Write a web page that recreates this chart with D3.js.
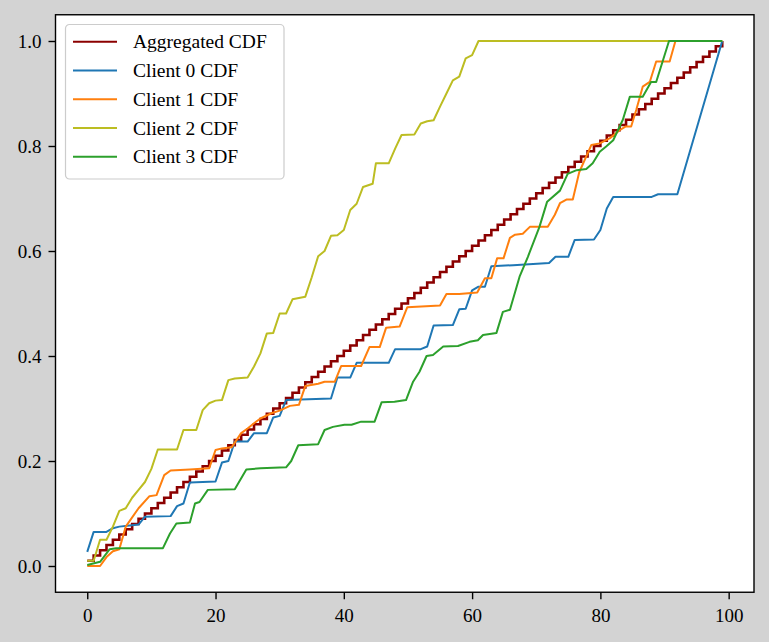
<!DOCTYPE html>
<html>
<head>
<meta charset="utf-8">
<script src="https://cdn.jsdelivr.net/npm/d3@7"></script>
<style>
  body { margin: 0; background: #d3d3d3; }
  svg { display: block; }
  text { font-family: "Liberation Serif", "Times New Roman", serif; }
</style>
</head>
<body>
<svg class="chart"></svg>
<script>

// aggregated CDF, one value per x = 0..99
var aggregated = [
    0.01, 0.02, 0.03, 0.04, 0.05, 0.06, 0.07, 0.08, 0.09, 0.10,
    0.11, 0.12, 0.13, 0.14, 0.15, 0.16, 0.17, 0.18, 0.19, 0.20,
    0.21, 0.22, 0.23, 0.24, 0.25, 0.26, 0.27, 0.28, 0.29, 0.30,
    0.31, 0.32, 0.33, 0.34, 0.35, 0.36, 0.37, 0.38, 0.39, 0.40,
    0.41, 0.42, 0.43, 0.44, 0.45, 0.46, 0.47, 0.48, 0.49, 0.50,
    0.51, 0.52, 0.53, 0.54, 0.55, 0.56, 0.57, 0.58, 0.59, 0.60,
    0.61, 0.62, 0.63, 0.64, 0.65, 0.66, 0.67, 0.68, 0.69, 0.70,
    0.71, 0.72, 0.73, 0.74, 0.75, 0.76, 0.77, 0.78, 0.79, 0.80,
    0.81, 0.82, 0.83, 0.84, 0.85, 0.86, 0.87, 0.88, 0.89, 0.90,
    0.91, 0.92, 0.93, 0.94, 0.95, 0.96, 0.97, 0.98, 0.99, 1.00
];

// client CDFs as [x, y] points
var client0 = [[0,0.027],[1,0.065],[3,0.065],[4,0.072],[5,0.075],[6.6,0.077],[8,0.079],[9,0.094],
    [13,0.095],[14,0.114],[15,0.119],[16,0.159],[20,0.161],[21,0.197],[22,0.2],[23,0.237],[25,0.237],
    [26,0.253],[28,0.253],[29,0.283],[30,0.286],[31,0.316],[38,0.319],[39,0.359],[41,0.359],[42,0.387],
    [47,0.387],[48,0.413],[52,0.413],[53,0.418],[54,0.458],[57,0.459],[58,0.489],[59,0.49],[60,0.525],
    [61,0.532],[62,0.532],[63,0.571],[66.4,0.573],[72,0.577],[73,0.589],[75,0.589],[76,0.621],[79,0.622],
    [80,0.64],[81,0.681],[82,0.703],[88,0.703],[89,0.708],[92,0.708],[99,1.0]];

var client1 = [[0,0],[2,0],[3,0.017],[4,0.028],[5,0.032],[6,0.075],[8,0.11],[9.7,0.133],[10.8,0.135],
    [12,0.173],[13,0.182],[16,0.184],[19,0.186],[20,0.221],[21,0.224],[22.5,0.226],[24,0.253],[25,0.262],
    [26,0.272],[27,0.281],[28.7,0.291],[30,0.296],[31.6,0.305],[33,0.307],[34,0.343],[36,0.347],[37,0.351],
    [38.6,0.351],[39.6,0.381],[42.7,0.381],[44,0.417],[45.6,0.417],[46.6,0.454],[48.7,0.456],[49.9,0.493],
    [55,0.496],[56,0.518],[58,0.518],[60.8,0.521],[62,0.548],[63,0.548],[63.9,0.586],[64.9,0.586],
    [65.9,0.625],[66.7,0.631],[67.9,0.633],[69,0.646],[71.8,0.646],[72.9,0.669],[73.7,0.691],[74.7,0.698],
    [75.7,0.698],[76.7,0.75],[78.6,0.802],[79.9,0.805],[81.5,0.815],[83,0.83],[83.9,0.837],[84.8,0.837],
    [85.6,0.869],[86.6,0.913],[87.7,0.922],[88.7,0.961],[90.8,0.961],[91.7,1.0],[99,1.0]];

var client2 = [[0,0.01],[1,0.01],[2,0.05],[3,0.05],[4,0.075],[5,0.105],[6,0.11],[7,0.13],[8,0.145],
    [9,0.16],[10,0.185],[11,0.222],[14,0.222],[15,0.259],[17,0.259],[18,0.297],[19,0.31],[20,0.315],
    [21,0.316],[22,0.354],[23,0.357],[25,0.359],[26,0.38],[27,0.405],[28,0.443],[29,0.444],[30,0.481],
    [31,0.481],[32,0.508],[34,0.513],[35,0.55],[36,0.59],[37,0.6],[38,0.629],[39,0.63],[40,0.64],
    [41,0.678],[42,0.69],[43,0.722],[44.5,0.728],[45,0.767],[47,0.767],[48,0.795],[49,0.821],[51,0.822],
    [52,0.843],[53,0.847],[54,0.849],[55,0.875],[56,0.9],[57,0.925],[58,0.932],[59,0.967],[60,0.973],
    [61,1.0],[99,1.0]];

var client3 = [[0,0.002],[2,0.008],[3.5,0.032],[4.5,0.034],[11.8,0.034],[12.9,0.062],[13.9,0.081],
    [16,0.083],[16.8,0.119],[17.5,0.122],[18.8,0.145],[23,0.146],[24.8,0.184],[27,0.186],[31,0.188],
    [31.8,0.2],[32.9,0.23],[36,0.232],[37,0.259],[38.3,0.265],[40.1,0.269],[41.2,0.269],[42.7,0.275],
    [44.8,0.275],[45.9,0.312],[47.9,0.313],[49.7,0.316],[50.8,0.351],[51.8,0.37],[52.9,0.4],[53.9,0.402],
    [55.5,0.418],[57.8,0.419],[59.6,0.427],[60.9,0.43],[61.7,0.44],[63.8,0.444],[64.8,0.484],[65.9,0.488],
    [67.4,0.551],[68.7,0.589],[70.5,0.646],[71.7,0.694],[73.7,0.715],[74.9,0.747],[76.3,0.754],
    [77.8,0.756],[78.8,0.767],[79.9,0.789],[80.9,0.799],[82,0.811],[83.5,0.85],[84.6,0.894],[86.6,0.894],
    [87.9,0.922],[88.7,0.922],[90.7,1.0],[99,1.0]];

var labels = ["Aggregated CDF", "Client 0 CDF", "Client 1 CDF", "Client 2 CDF", "Client 3 CDF"];
var colors = ["#8b0000", "#1f77b4", "#ff7f0e", "#bcbd22", "#2ca02c"];
var xTicks = [0, 20, 40, 60, 80, 100];
var yTicks = [0.0, 0.2, 0.4, 0.6, 0.8, 1.0];

var width = 769, height = 642;
var plot = {left: 55.5, right: 754, top: 14.75, bottom: 592.25};

var svg = d3.select(".chart")
    .attr("width", width)
    .attr("height", height);

var x = d3.scaleLinear().domain([-4.95, 103.95]).range([plot.left, plot.right]);
var y = d3.scaleLinear().domain([-0.05, 1.05]).range([plot.bottom, plot.top]);

// plot background
svg.append("rect")
    .attr("x", plot.left).attr("y", plot.top)
    .attr("width", plot.right - plot.left).attr("height", plot.bottom - plot.top)
    .attr("fill", "#fff");

var clip = svg.append("clipPath").attr("id", "clip")
    .append("rect")
    .attr("x", plot.left).attr("y", plot.top)
    .attr("width", plot.right - plot.left).attr("height", plot.bottom - plot.top);

var lines = svg.append("g").attr("clip-path", "url(#clip)");

var line = d3.line()
    .x(function(d) { return x(d[0]); })
    .y(function(d) { return y(d[1]); });

var stepLine = d3.line()
    .curve(d3.curveStepAfter)
    .x(function(d, i) { return x(i); })
    .y(function(d) { return y(d); });

lines.append("path")
    .attr("d", stepLine(aggregated))
    .attr("fill", "none")
    .attr("stroke", colors[0])
    .attr("stroke-width", 2.6);

[client0, client1, client2, client3].forEach(function(c, i) {
    lines.append("path")
        .attr("d", line(c))
        .attr("fill", "none")
        .attr("stroke", colors[i + 1])
        .attr("stroke-width", 2)
        .attr("stroke-linejoin", "round");
});

// axes
var xAxis = svg.append("g")
    .attr("transform", "translate(0," + plot.bottom + ")")
    .call(d3.axisBottom(x).tickValues(xTicks).tickSize(7).tickPadding(9).tickSizeOuter(0));

var yAxis = svg.append("g")
    .attr("transform", "translate(" + plot.left + ",0)")
    .call(d3.axisLeft(y).tickValues(yTicks).tickSize(7).tickPadding(7).tickFormat(d3.format(".1f")).tickSizeOuter(0));

[xAxis, yAxis].forEach(function(a) {
    a.select(".domain").remove();
    a.selectAll(".tick line").attr("stroke", "#000").attr("stroke-width", 1.4);
    a.selectAll(".tick text")
        .attr("fill", "#000")
        .style("font-family", "'Liberation Serif', serif")
        .style("font-size", "19px");
});

// frame
svg.append("rect")
    .attr("x", plot.left).attr("y", plot.top)
    .attr("width", plot.right - plot.left).attr("height", plot.bottom - plot.top)
    .attr("fill", "none")
    .attr("stroke", "#000")
    .attr("stroke-width", 1.4);

// legend
var legend = svg.append("g").attr("transform", "translate(65.5,24.5)");

legend.append("rect")
    .attr("width", 218.5).attr("height", 154.5)
    .attr("rx", 4).attr("ry", 4)
    .attr("fill", "#fff")
    .attr("stroke", "#cccccc")
    .attr("stroke-width", 1.2);

var rows = legend.selectAll(".row").data(labels).enter()
    .append("g")
    .attr("transform", function(d, i) { return "translate(0," + (17.2 + i * 28.75) + ")"; });

rows.append("line")
    .attr("x1", 7.5).attr("x2", 51.5)
    .attr("stroke", function(d, i) { return colors[i]; })
    .attr("stroke-width", 2);

rows.append("text")
    .attr("x", 67.5)
    .attr("dy", "0.34em")
    .style("font-size", "19.5px")
    .text(function(d) { return d; });

</script>
</body>
</html>
